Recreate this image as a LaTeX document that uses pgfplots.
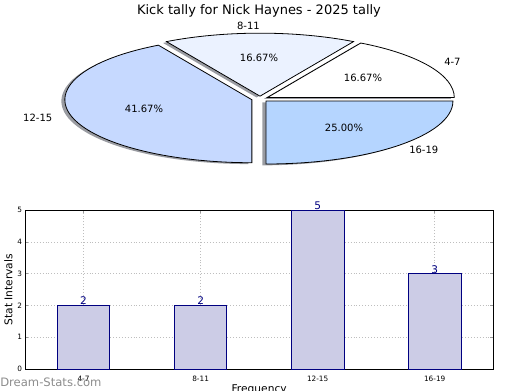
\documentclass[border=0pt]{standalone}
\usepackage{pgfplots}
\pgfplotsset{compat=1.18}
\usepackage{pgfplotstable}
\usepackage{fontspec}
\setmainfont{DejaVu Sans}

\definecolor{pA}{HTML}{FFFFFF}
\definecolor{pB}{HTML}{EBF2FF}
\definecolor{pC}{HTML}{C6D9FF}
\definecolor{pD}{HTML}{B5D5FF}
\definecolor{shadowc}{HTML}{9A9CA2}
\definecolor{barfill}{HTML}{CCCCE6}
\definecolor{navy}{HTML}{000080}
\definecolor{gridc}{HTML}{BEBEBE}
\definecolor{wmark}{HTML}{8C8C8C}

\pgfplotstableread{
x label val
0 4-7 2
1 8-11 2
2 12-15 5
3 16-19 3
}\tally

\newcommand\drawwedge[5]{%
  \path[#5] (axis cs:260,291) ++(#3pt,#4pt) -- ++({\rx*cos(#1)*1pt},{\ry*sin(#1)*1pt})
    arc[start angle=#1, end angle=#2, x radius=\rx pt, y radius=\ry pt] -- cycle;}

\begin{document}
\begin{tikzpicture}
\useasboundingbox (0,0) rectangle (390pt,292.5pt);
\clip (0,0) rectangle (390pt,292.5pt);
% pie geometry (pt)
\def\rx{140.25}
\def\ry{47.25}
\def\ex{0.045}
\pgfplotstablegetelem{0}{val}\of\tally \let\vA\pgfplotsretval
\pgfplotstablegetelem{1}{val}\of\tally \let\vB\pgfplotsretval
\pgfplotstablegetelem{2}{val}\of\tally \let\vC\pgfplotsretval
\pgfplotstablegetelem{3}{val}\of\tally \let\vD\pgfplotsretval
\pgfmathsetmacro\tot{\vA+\vB+\vC+\vD}
\pgfmathsetmacro\aA{0}
\pgfmathsetmacro\aB{\aA+360*\vA/\tot}
\pgfmathsetmacro\aC{\aB+360*\vB/\tot}
\pgfmathsetmacro\aD{\aC+360*\vC/\tot}
\pgfmathsetmacro\aE{\aD+360*\vD/\tot}
\pgfmathsetmacro\dxA{\ex*\rx*cos((\aA+\aB)/2)}
\pgfmathsetmacro\dyA{\ex*\ry*sin((\aA+\aB)/2)}
\pgfmathsetmacro\dxB{\ex*\rx*cos((\aB+\aC)/2)}
\pgfmathsetmacro\dyB{\ex*\ry*sin((\aB+\aC)/2)}
\pgfmathsetmacro\dxC{\ex*\rx*cos((\aC+\aD)/2)}
\pgfmathsetmacro\dyC{\ex*\ry*sin((\aC+\aD)/2)}
\pgfmathsetmacro\dxD{\ex*\rx*cos((\aD+\aE)/2)}
\pgfmathsetmacro\dyD{\ex*\ry*sin((\aD+\aE)/2)}

\begin{axis}[at={(0pt,0pt)}, anchor=south west, scale only axis,
  width=390pt, height=292.5pt, xmin=0, xmax=520, ymin=0, ymax=390,
  hide axis, clip=false]
  % shadows
  \drawwedge{\aA}{\aB}{\dxA}{\dyA}{fill=shadowc, xshift=-2.6pt, yshift=-1pt}
  \drawwedge{\aB}{\aC}{\dxB}{\dyB}{fill=shadowc, xshift=-2.6pt, yshift=-1pt}
  \drawwedge{\aC}{\aD}{\dxC}{\dyC}{fill=shadowc, xshift=-2.6pt, yshift=-1pt}
  \drawwedge{\aD}{\aE}{\dxD}{\dyD}{fill=shadowc, xshift=-2.6pt, yshift=-1pt}
  % wedges
  \drawwedge{\aA}{\aB}{\dxA}{\dyA}{fill=pA, draw=black, line width=0.6pt, line join=miter}
  \drawwedge{\aB}{\aC}{\dxB}{\dyB}{fill=pB, draw=black, line width=0.6pt, line join=miter}
  \drawwedge{\aC}{\aD}{\dxC}{\dyC}{fill=pC, draw=black, line width=0.6pt, line join=miter}
  \drawwedge{\aD}{\aE}{\dxD}{\dyD}{fill=pD, draw=black, line width=0.6pt, line join=miter}
  % labels
  \begin{scope}[every node/.style={inner sep=0pt, font=\fontsize{7.5}{9}\selectfont}]
  \node[anchor=east] at (axis cs:260,364) {8-11};
  \node[anchor=west] at (axis cs:444,327.8) {4-7};
  \node[anchor=east] at (axis cs:52.5,271.7) {12-15};
  \node[anchor=west] at (axis cs:409,240) {16-19};
  \node at (axis cs:259,331.7) {16.67\%};
  \node at (axis cs:363,312) {16.67\%};
  \node at (axis cs:144,280.7) {41.67\%};
  \node at (axis cs:344,261.7) {25.00\%};
  \end{scope}
  \node[anchor=base, inner sep=0pt, font=\fontsize{9.75}{11}\selectfont] at (axis cs:259,375.5) {Kick tally for Nick Haynes - 2025 tally};
\end{axis}

\begin{axis}[at={(18.75pt,15.75pt)}, anchor=south west, scale only axis,
  width=351.2pt, height=119pt,
  xmin=-0.5, xmax=3.5, ymin=0, ymax=5,
  xtick=data, xticklabels={4-7,8-11,12-15,16-19},
  ytick={0,1,2,3,4,5},
  grid=major, grid style={gridc, line width=0.65pt, dash pattern=on 0.7pt off 1.5pt},
  tick align=inside, major tick length=2.25pt, tick style={black!40, line width=0.75pt},
  axis line style={black, line width=0.75pt},
  /pgf/number format/assume math mode=true,
  ticklabel style={font=\fontsize{5.5}{6}\selectfont, inner sep=0pt},
  yticklabel style={xshift=-2pt},
  xticklabel style={yshift=-5pt},
  label style={font=\fontsize{8}{9.6}\selectfont},
  ylabel={Stat Intervals}, xlabel={Frequency},
  ylabel style={at={(axis description cs:-0.027,0.5)}, anchor=base, inner sep=0pt},
  xlabel style={at={(axis description cs:0.5,-0.145)}, anchor=base, inner sep=0pt},
  clip=false, axis on top=false]
  \addplot[ybar, bar width=0.45, fill=barfill, draw=navy, line width=0.75pt,
    nodes near coords,
    every node near coord/.append style={anchor=base, inner sep=0pt, yshift=0.6pt,
      font=\fontsize{7.9}{9}\selectfont, text=navy}]
    table[x=x, y=val]{\tally};
\end{axis}

\node[anchor=base west, inner sep=0pt, text=wmark, font=\fontsize{8.7}{10}\selectfont] at (0pt,3pt) {Dream-Stats.com};
\end{tikzpicture}
\end{document}
